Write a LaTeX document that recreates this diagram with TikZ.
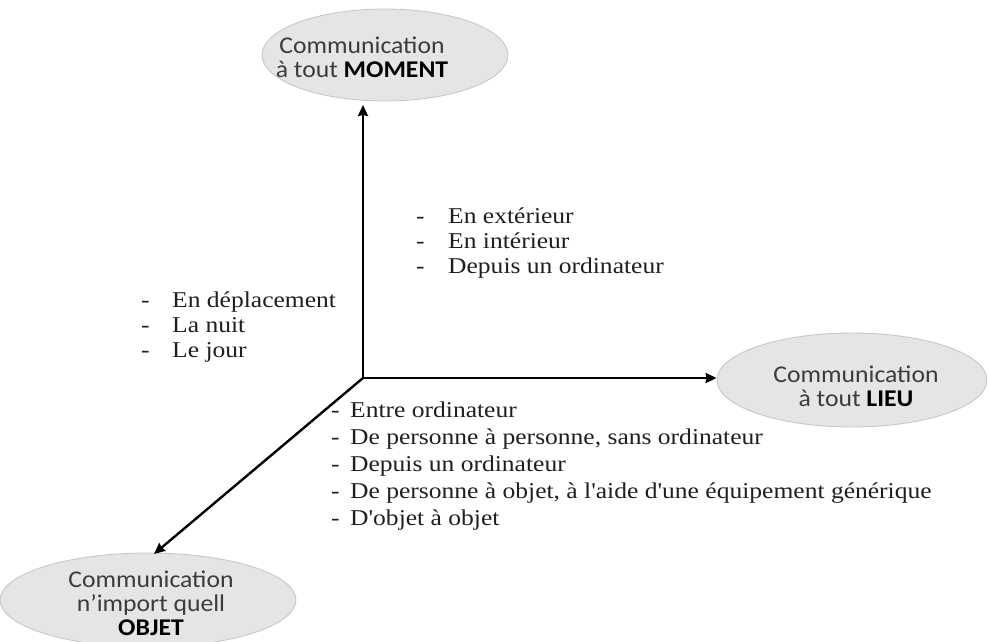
\documentclass[tikz,border=0pt]{standalone}
\usepackage{fontspec}
\setmainfont{Liberation Serif}[Ligatures=TeXOff, FakeStretch=1.13]
\newfontfamily\bubblefont{Carlito}[FakeStretch=1.07]
\usetikzlibrary{shapes.geometric,arrows.meta}
\definecolor{bubblefill}{HTML}{E5E5E5}
\definecolor{bubbleline}{HTML}{C4C4C4}
\definecolor{bubbletext}{HTML}{3C3C3C}
\tikzset{
  bubble/.style={ellipse, draw=bubbleline, fill=bubblefill, line width=0.8pt,
    inner sep=0pt},
  bubblelabel/.style={align=center, inner sep=0pt, text=bubbletext,
    font=\bubblefont\fontsize{24}{24}\selectfont},
  axis/.style={line width=2.4pt, -{Stealth[length=11pt,width=10pt,inset=1pt]}},
  itemlist/.style={anchor=north west, align=left, inner sep=0pt,
    font=\fontsize{22.6}{25}\selectfont, text=black!88},
}
\newcommand{\itm}[2]{\makebox[#1][l]{-}#2}
\begin{document}
\begin{tikzpicture}[x=1pt,y=-1pt]
\useasboundingbox (0,0) rectangle (989,642);
% origin of the three axes
\coordinate (o) at (363,378);
% bubbles at the axis ends
\node[bubble, minimum width=246pt, minimum height=92pt] (moment) at (385,55) {};
\node[bubblelabel] (momenttext) at (362,57)
  {Communication\\à tout \textbf{\color{black}MOMENT}};
\node[bubble, minimum width=270pt, minimum height=94pt] (lieu) at (852,380) {};
\node[bubblelabel] (lieutext) at (856,386)
  {Communication\\à tout \textbf{\color{black}LIEU}};
\node[bubble, minimum width=296pt, minimum height=94pt] (objet) at (148,600) {};
\node[bubblelabel] (objettext) at (151,603)
  {Communication\\n’import quell\\\textbf{\color{black}OBJET}};
% axes
\coordinate (momenttip) at (363,105);
\coordinate (objettip) at (154,554);
\draw[axis] (o) -- (momenttip);
\draw[axis] (o) -- (lieu.west |- o);
\draw[axis] (o) -- (objettip);
% lists of examples
\node[itemlist] (places) at (416,208)
  {\itm{32pt}{En extérieur}\\\itm{32pt}{En intérieur}\\\itm{32pt}{Depuis un ordinateur}};
\node[itemlist] (times) at (141,292)
  {\itm{31pt}{En déplacement}\\\itm{31pt}{La nuit}\\\itm{31pt}{Le jour}};
\node[itemlist, font=\fontsize{22.6}{26.8}\selectfont] (things) at (331,402)
  {\itm{19pt}{Entre ordinateur}\\
   \itm{19pt}{De personne à personne, sans ordinateur}\\
   \itm{19pt}{Depuis un ordinateur}\\
   \itm{19pt}{De personne à objet, à l'aide d'une équipement générique}\\
   \itm{19pt}{D'objet à objet}};
\end{tikzpicture}
\end{document}
